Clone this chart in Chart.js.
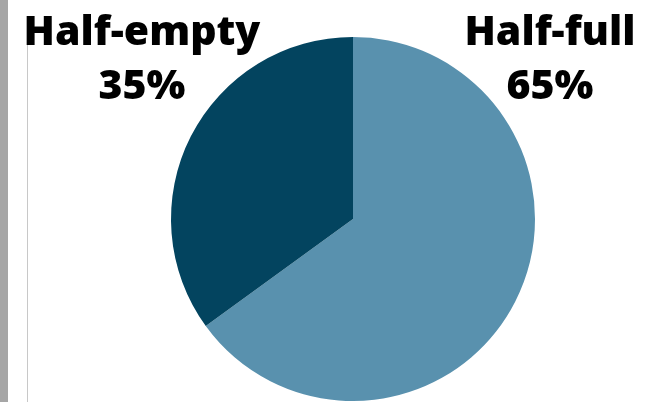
<!DOCTYPE html>
<html>
<head>
<meta charset="utf-8">
<script src="https://cdn.jsdelivr.net/npm/chart.js@4"></script>
<style>
  html, body { margin: 0; padding: 0; background: #fff; }
  #wrap { position: relative; width: 655px; height: 402px; }
  #bar { position: absolute; left: 0; top: 0; width: 8px; height: 402px; background: #a6a6a6; }
  #rule { position: absolute; left: 27px; top: 44px; width: 1px; height: 358px; background: #c8c8c8; }
  canvas { position: absolute; left: 0; top: 0; }
</style>
</head>
<body>
<div id="wrap">
  <div id="bar"></div>
  <div id="rule"></div>
  <canvas id="myChart" width="655" height="402"></canvas>
</div>
<script>
const labels = ["Half-full", "Half-empty"];
const values = [65, 35];
const colors = ["#5991ae", "#03445f"];

// where each label sits (text centre x, baseline of first line)
const labelSpots = [
  { x: 550, y: 45 },
  { x: 142, y: 45 }
];

const labelPlugin = {
  id: 'sliceLabels',
  afterDraw(chart) {
    const c = chart.ctx;
    c.save();
    c.fillStyle = '#000';
    c.textAlign = 'center';
    c.textBaseline = 'alphabetic';
    c.font = '800 41px "Open Sans"';
    labels.forEach((lab, i) => {
      const p = labelSpots[i];
      c.fillText(lab, p.x, p.y);
      c.fillText(values[i] + '%', p.x, p.y + 54);
    });
    c.restore();
  }
};

new Chart(document.getElementById('myChart'), {
  type: 'pie',
  data: {
    labels: labels,
    datasets: [{
      data: values,
      backgroundColor: colors,
      borderWidth: 0
    }]
  },
  options: {
    responsive: false,
    animation: false,
    layout: { padding: { left: 171, right: 120, top: 37, bottom: 1 } },
    plugins: {
      legend: { display: false },
      tooltip: { enabled: false }
    }
  },
  plugins: [labelPlugin]
});
</script>
</body>
</html>
